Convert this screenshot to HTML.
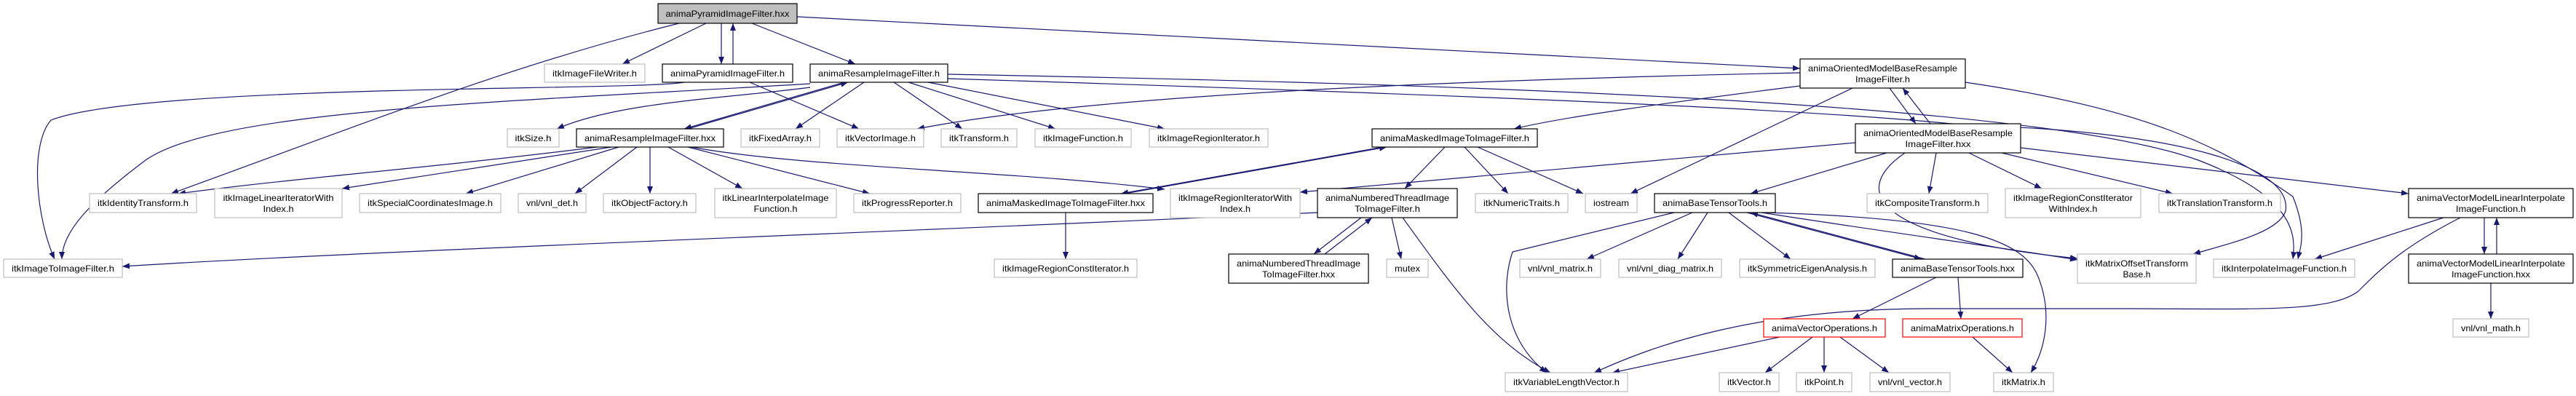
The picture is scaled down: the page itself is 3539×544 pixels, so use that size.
<!DOCTYPE html>
<html><head><meta charset="utf-8"><style>
html,body{margin:0;padding:0;background:#fff;}
svg{display:block;}
text{font-family:"Liberation Sans",sans-serif;font-size:12px;fill:#000;}
</style></head><body>
<svg width="3539" height="544" viewBox="0 0 3539 544" xmlns="http://www.w3.org/2000/svg">
<defs>
<marker id="a" markerWidth="11" markerHeight="8" refX="10" refY="4" orient="auto" markerUnits="userSpaceOnUse">
<path d="M0,0 L10,4 L0,8 Z" fill="#191970"/>
</marker>
</defs>
<g fill="none" stroke="#191970" stroke-width="1.2" marker-end="url(#a)">
<path d="M970,32 L855,88"/>
<path d="M933,32 C700,90 500,170 235,266"/>
<path d="M991,32 L991,88"/>
<path d="M1007,88 L1007,32"/>
<path d="M1033,32 L1175,88"/>
<path d="M1095,23 L2473,94"/>
<path d="M940,113 C880,125 200,115 70,165 C40,200 50,300 75,356"/>
<path d="M1030,113 L1180,177"/>
<path d="M1160,113 L940,177"/>
<path d="M945,177 L1165,113"/>
<path d="M1187,113 L1093,177"/>
<path d="M1228,113 L1322,177"/>
<path d="M1248,113 L1450,177"/>
<path d="M1275,113 L1600,177"/>
<path d="M1113,120 C1000,135 850,140 765,177"/>
<path d="M1113,115 C700,140 300,150 200,220 C120,280 85,320 85,356"/>
<path d="M1302,108 C2000,130 2500,150 2700,172 C3000,180 3150,230 3140,290 C3130,320 3060,335 3013,349"/>
<path d="M1302,102 C2000,115 2800,140 3020,220 C3150,270 3155,320 3150,356"/>
<path d="M820,202 C600,230 400,245 245,266"/>
<path d="M840,202 L470,259"/>
<path d="M850,202 L640,266"/>
<path d="M875,202 L790,266"/>
<path d="M893,202 L893,266"/>
<path d="M918,202 L1020,259"/>
<path d="M945,202 L1195,266"/>
<path d="M950,202 C1100,230 1400,235 1600,260"/>
<path d="M2473,100 C2000,110 1500,130 1260,177"/>
<path d="M2473,118 C2300,140 2150,160 2080,177"/>
<path d="M2545,121 L2240,266"/>
<path d="M2596,121 L2632,170"/>
<path d="M2652,170 L2614,121"/>
<path d="M2700,113 C2950,150 3050,200 3150,270 C3170,320 3160,340 3157,356"/>
<path d="M2549,196 L1786,264"/>
<path d="M2592,210 L2405,266"/>
<path d="M2660,210 L2650,266"/>
<path d="M2705,210 L2805,259"/>
<path d="M2750,210 L2985,266"/>
<path d="M2776,203 L3309,266"/>
<path d="M2617,210 C2530,270 2600,330 2854,355"/>
<path d="M1985,202 L1930,259"/>
<path d="M2012,202 L2072,266"/>
<path d="M2030,202 L2175,266"/>
<path d="M1900,202 L1540,266"/>
<path d="M1545,266 L1905,202"/>
<path d="M1810,292 C1200,320 500,345 168,366"/>
<path d="M1870,299 L1805,349"/>
<path d="M1820,349 L1885,299"/>
<path d="M1912,299 L1925,356"/>
<path d="M1927,299 C2000,400 2050,470 2130,512"/>
<path d="M1464,292 L1464,356"/>
<path d="M2300,292 L2078,346 C2060,400 2070,470 2125,512"/>
<path d="M2325,292 L2180,356"/>
<path d="M2346,292 L2305,356"/>
<path d="M2375,292 L2460,356"/>
<path d="M2400,292 L2640,356"/>
<path d="M2645,356 L2405,292"/>
<path d="M2420,292 C2600,320 2750,340 2854,357"/>
<path d="M2425,292 C2700,300 2780,330 2800,380 C2820,430 2810,480 2790,512"/>
<path d="M2660,381 L2545,438"/>
<path d="M2690,381 L2694,438"/>
<path d="M2445,463 L2215,512"/>
<path d="M2490,463 L2425,512"/>
<path d="M2506,463 L2506,512"/>
<path d="M2528,463 L2595,512"/>
<path d="M2710,463 L2765,512"/>
<path d="M3357,299 L3180,356"/>
<path d="M3413,299 L3413,349"/>
<path d="M3430,349 L3430,299"/>
<path d="M3380,299 C3300,340 3270,370 3240,400 C3200,430 3100,424 2900,424 L2650,424 C2400,424 2260,480 2190,512"/>
<path d="M3422,389 L3422,438"/>
</g>
<g stroke-width="1.2">
<!-- nodes -->
<rect x="904" y="5" width="191" height="27" fill="#bfbfbf" stroke="#000"/>
<text x="999.5" y="23" text-anchor="middle" textLength="170" lengthAdjust="spacingAndGlyphs">animaPyramidImageFilter.hxx</text>

<rect x="748" y="88" width="138" height="25" fill="#fff" stroke="#bfbfbf"/>
<text x="817" y="105" text-anchor="middle" textLength="116" lengthAdjust="spacingAndGlyphs">itkImageFileWriter.h</text>
<rect x="910" y="88" width="179" height="25" fill="#fff" stroke="#000"/>
<text x="999.5" y="105" text-anchor="middle" textLength="157" lengthAdjust="spacingAndGlyphs">animaPyramidImageFilter.h</text>
<rect x="1113" y="88" width="189" height="25" fill="#fff" stroke="#000"/>
<text x="1207.5" y="105" text-anchor="middle" textLength="167" lengthAdjust="spacingAndGlyphs">animaResampleImageFilter.h</text>
<rect x="2473" y="81" width="227" height="40" fill="#fff" stroke="#000"/>
<text x="2586.5" y="98" text-anchor="middle" textLength="205" lengthAdjust="spacingAndGlyphs">animaOrientedModelBaseResample</text>
<text x="2586.5" y="113" text-anchor="middle" textLength="75" lengthAdjust="spacingAndGlyphs">ImageFilter.h</text>

<rect x="697" y="177" width="71" height="25" fill="#fff" stroke="#bfbfbf"/>
<text x="732.5" y="194" text-anchor="middle" textLength="50" lengthAdjust="spacingAndGlyphs">itkSize.h</text>
<rect x="792" y="177" width="202" height="25" fill="#fff" stroke="#000"/>
<text x="893" y="194" text-anchor="middle" textLength="180" lengthAdjust="spacingAndGlyphs">animaResampleImageFilter.hxx</text>
<rect x="1018" y="177" width="108" height="25" fill="#fff" stroke="#bfbfbf"/>
<text x="1072" y="194" text-anchor="middle" textLength="86" lengthAdjust="spacingAndGlyphs">itkFixedArray.h</text>
<rect x="1150" y="177" width="119" height="25" fill="#fff" stroke="#bfbfbf"/>
<text x="1209.5" y="194" text-anchor="middle" textLength="97" lengthAdjust="spacingAndGlyphs">itkVectorImage.h</text>
<rect x="1293" y="177" width="104" height="25" fill="#fff" stroke="#bfbfbf"/>
<text x="1345" y="194" text-anchor="middle" textLength="82" lengthAdjust="spacingAndGlyphs">itkTransform.h</text>
<rect x="1422" y="177" width="132" height="25" fill="#fff" stroke="#bfbfbf"/>
<text x="1488" y="194" text-anchor="middle" textLength="110" lengthAdjust="spacingAndGlyphs">itkImageFunction.h</text>
<rect x="1579" y="177" width="163" height="25" fill="#fff" stroke="#bfbfbf"/>
<text x="1660.5" y="194" text-anchor="middle" textLength="141" lengthAdjust="spacingAndGlyphs">itkImageRegionIterator.h</text>
<rect x="1885" y="177" width="227" height="25" fill="#fff" stroke="#000"/>
<text x="1998.5" y="194" text-anchor="middle" textLength="205" lengthAdjust="spacingAndGlyphs">animaMaskedImageToImageFilter.h</text>
<rect x="2549" y="170" width="227" height="40" fill="#fff" stroke="#000"/>
<text x="2662.5" y="187" text-anchor="middle" textLength="205" lengthAdjust="spacingAndGlyphs">animaOrientedModelBaseResample</text>
<text x="2662.5" y="202" text-anchor="middle" textLength="90" lengthAdjust="spacingAndGlyphs">ImageFilter.hxx</text>

<rect x="123" y="266" width="147" height="26" fill="#fff" stroke="#bfbfbf"/>
<text x="196.5" y="283" text-anchor="middle" textLength="125" lengthAdjust="spacingAndGlyphs">itkIdentityTransform.h</text>
<rect x="295" y="259" width="175" height="40" fill="#fff" stroke="#bfbfbf"/>
<text x="382.5" y="276" text-anchor="middle" textLength="152" lengthAdjust="spacingAndGlyphs">itkImageLinearIteratorWith</text>
<text x="382.5" y="291" text-anchor="middle" textLength="42" lengthAdjust="spacingAndGlyphs">Index.h</text>
<rect x="494" y="266" width="194" height="26" fill="#fff" stroke="#bfbfbf"/>
<text x="591" y="283" text-anchor="middle" textLength="172" lengthAdjust="spacingAndGlyphs">itkSpecialCoordinatesImage.h</text>
<rect x="712" y="266" width="93" height="26" fill="#fff" stroke="#bfbfbf"/>
<text x="758.5" y="283" text-anchor="middle" textLength="71" lengthAdjust="spacingAndGlyphs">vnl/vnl_det.h</text>
<rect x="829" y="266" width="127" height="26" fill="#fff" stroke="#bfbfbf"/>
<text x="892.5" y="283" text-anchor="middle" textLength="105" lengthAdjust="spacingAndGlyphs">itkObjectFactory.h</text>
<rect x="982" y="259" width="167" height="40" fill="#fff" stroke="#bfbfbf"/>
<text x="1065.5" y="276" text-anchor="middle" textLength="146" lengthAdjust="spacingAndGlyphs">itkLinearInterpolateImage</text>
<text x="1065.5" y="291" text-anchor="middle" textLength="60" lengthAdjust="spacingAndGlyphs">Function.h</text>
<rect x="1173" y="266" width="147" height="26" fill="#fff" stroke="#bfbfbf"/>
<text x="1246.5" y="283" text-anchor="middle" textLength="125" lengthAdjust="spacingAndGlyphs">itkProgressReporter.h</text>
<rect x="1344" y="266" width="240" height="26" fill="#fff" stroke="#000"/>
<text x="1464" y="283" text-anchor="middle" textLength="218" lengthAdjust="spacingAndGlyphs">animaMaskedImageToImageFilter.hxx</text>
<rect x="1608" y="259" width="178" height="40" fill="#fff" stroke="#bfbfbf"/>
<text x="1697" y="276" text-anchor="middle" textLength="156" lengthAdjust="spacingAndGlyphs">itkImageRegionIteratorWith</text>
<text x="1697" y="291" text-anchor="middle" textLength="42" lengthAdjust="spacingAndGlyphs">Index.h</text>
<rect x="1810" y="259" width="192" height="40" fill="#fff" stroke="#000"/>
<text x="1906" y="276" text-anchor="middle" textLength="170" lengthAdjust="spacingAndGlyphs">animaNumberedThreadImage</text>
<text x="1906" y="291" text-anchor="middle" textLength="90" lengthAdjust="spacingAndGlyphs">ToImageFilter.h</text>
<rect x="2027" y="266" width="127" height="26" fill="#fff" stroke="#bfbfbf"/>
<text x="2090.5" y="283" text-anchor="middle" textLength="105" lengthAdjust="spacingAndGlyphs">itkNumericTraits.h</text>
<rect x="2178" y="266" width="71" height="26" fill="#fff" stroke="#bfbfbf"/>
<text x="2213.5" y="283" text-anchor="middle" textLength="49" lengthAdjust="spacingAndGlyphs">iostream</text>
<rect x="2273" y="266" width="166" height="26" fill="#fff" stroke="#000"/>
<text x="2356" y="283" text-anchor="middle" textLength="144" lengthAdjust="spacingAndGlyphs">animaBaseTensorTools.h</text>
<rect x="2565" y="266" width="166" height="26" fill="#fff" stroke="#bfbfbf"/>
<text x="2648" y="283" text-anchor="middle" textLength="144" lengthAdjust="spacingAndGlyphs">itkCompositeTransform.h</text>
<rect x="2755" y="259" width="186" height="40" fill="#fff" stroke="#bfbfbf"/>
<text x="2848" y="276" text-anchor="middle" textLength="164" lengthAdjust="spacingAndGlyphs">itkImageRegionConstIterator</text>
<text x="2848" y="291" text-anchor="middle" textLength="67" lengthAdjust="spacingAndGlyphs">WithIndex.h</text>
<rect x="2966" y="266" width="167" height="26" fill="#fff" stroke="#bfbfbf"/>
<text x="3049.5" y="283" text-anchor="middle" textLength="145" lengthAdjust="spacingAndGlyphs">itkTranslationTransform.h</text>
<rect x="3309" y="259" width="226" height="40" fill="#fff" stroke="#000"/>
<text x="3422" y="276" text-anchor="middle" textLength="204" lengthAdjust="spacingAndGlyphs">animaVectorModelLinearInterpolate</text>
<text x="3422" y="291" text-anchor="middle" textLength="96" lengthAdjust="spacingAndGlyphs">ImageFunction.h</text>

<rect x="5" y="356" width="163" height="25" fill="#fff" stroke="#bfbfbf"/>
<text x="86.5" y="373" text-anchor="middle" textLength="141" lengthAdjust="spacingAndGlyphs">itkImageToImageFilter.h</text>
<rect x="1366" y="356" width="196" height="25" fill="#fff" stroke="#bfbfbf"/>
<text x="1464" y="373" text-anchor="middle" textLength="174" lengthAdjust="spacingAndGlyphs">itkImageRegionConstIterator.h</text>
<rect x="1688" y="349" width="192" height="40" fill="#fff" stroke="#000"/>
<text x="1784" y="366" text-anchor="middle" textLength="170" lengthAdjust="spacingAndGlyphs">animaNumberedThreadImage</text>
<text x="1784" y="381" text-anchor="middle" textLength="100" lengthAdjust="spacingAndGlyphs">ToImageFilter.hxx</text>
<rect x="1905" y="356" width="57" height="25" fill="#fff" stroke="#bfbfbf"/>
<text x="1933.5" y="373" text-anchor="middle" textLength="35" lengthAdjust="spacingAndGlyphs">mutex</text>
<rect x="2088" y="356" width="111" height="25" fill="#fff" stroke="#bfbfbf"/>
<text x="2143.5" y="373" text-anchor="middle" textLength="89" lengthAdjust="spacingAndGlyphs">vnl/vnl_matrix.h</text>
<rect x="2224" y="356" width="141" height="25" fill="#fff" stroke="#bfbfbf"/>
<text x="2294.5" y="373" text-anchor="middle" textLength="119" lengthAdjust="spacingAndGlyphs">vnl/vnl_diag_matrix.h</text>
<rect x="2390" y="356" width="186" height="25" fill="#fff" stroke="#bfbfbf"/>
<text x="2483" y="373" text-anchor="middle" textLength="164" lengthAdjust="spacingAndGlyphs">itkSymmetricEigenAnalysis.h</text>
<rect x="2600" y="356" width="179" height="25" fill="#fff" stroke="#000"/>
<text x="2689.5" y="373" text-anchor="middle" textLength="157" lengthAdjust="spacingAndGlyphs">animaBaseTensorTools.hxx</text>
<rect x="2854" y="349" width="163" height="40" fill="#fff" stroke="#bfbfbf"/>
<text x="2935.5" y="366" text-anchor="middle" textLength="141" lengthAdjust="spacingAndGlyphs">itkMatrixOffsetTransform</text>
<text x="2935.5" y="381" text-anchor="middle" textLength="38" lengthAdjust="spacingAndGlyphs">Base.h</text>
<rect x="3041" y="356" width="194" height="25" fill="#fff" stroke="#bfbfbf"/>
<text x="3138" y="373" text-anchor="middle" textLength="172" lengthAdjust="spacingAndGlyphs">itkInterpolateImageFunction.h</text>
<rect x="3309" y="349" width="226" height="40" fill="#fff" stroke="#000"/>
<text x="3422" y="366" text-anchor="middle" textLength="204" lengthAdjust="spacingAndGlyphs">animaVectorModelLinearInterpolate</text>
<text x="3422" y="381" text-anchor="middle" textLength="108" lengthAdjust="spacingAndGlyphs">ImageFunction.hxx</text>

<rect x="2423" y="438" width="167" height="25" fill="#fff" stroke="#ff0000"/>
<text x="2506.5" y="455" text-anchor="middle" textLength="145" lengthAdjust="spacingAndGlyphs">animaVectorOperations.h</text>
<rect x="2614" y="438" width="164" height="25" fill="#fff" stroke="#ff0000"/>
<text x="2696" y="455" text-anchor="middle" textLength="142" lengthAdjust="spacingAndGlyphs">animaMatrixOperations.h</text>
<rect x="3370" y="438" width="104" height="25" fill="#fff" stroke="#bfbfbf"/>
<text x="3422" y="455" text-anchor="middle" textLength="82" lengthAdjust="spacingAndGlyphs">vnl/vnl_math.h</text>

<rect x="2068" y="512" width="168" height="26" fill="#fff" stroke="#bfbfbf"/>
<text x="2152" y="529" text-anchor="middle" textLength="146" lengthAdjust="spacingAndGlyphs">itkVariableLengthVector.h</text>
<rect x="2362" y="512" width="82" height="26" fill="#fff" stroke="#bfbfbf"/>
<text x="2403" y="529" text-anchor="middle" textLength="60" lengthAdjust="spacingAndGlyphs">itkVector.h</text>
<rect x="2468" y="512" width="76" height="26" fill="#fff" stroke="#bfbfbf"/>
<text x="2506" y="529" text-anchor="middle" textLength="54" lengthAdjust="spacingAndGlyphs">itkPoint.h</text>
<rect x="2569" y="512" width="110" height="26" fill="#fff" stroke="#bfbfbf"/>
<text x="2624" y="529" text-anchor="middle" textLength="88" lengthAdjust="spacingAndGlyphs">vnl/vnl_vector.h</text>
<rect x="2739" y="512" width="82" height="26" fill="#fff" stroke="#bfbfbf"/>
<text x="2780" y="529" text-anchor="middle" textLength="60" lengthAdjust="spacingAndGlyphs">itkMatrix.h</text>
</g>
</svg>
</body></html>
